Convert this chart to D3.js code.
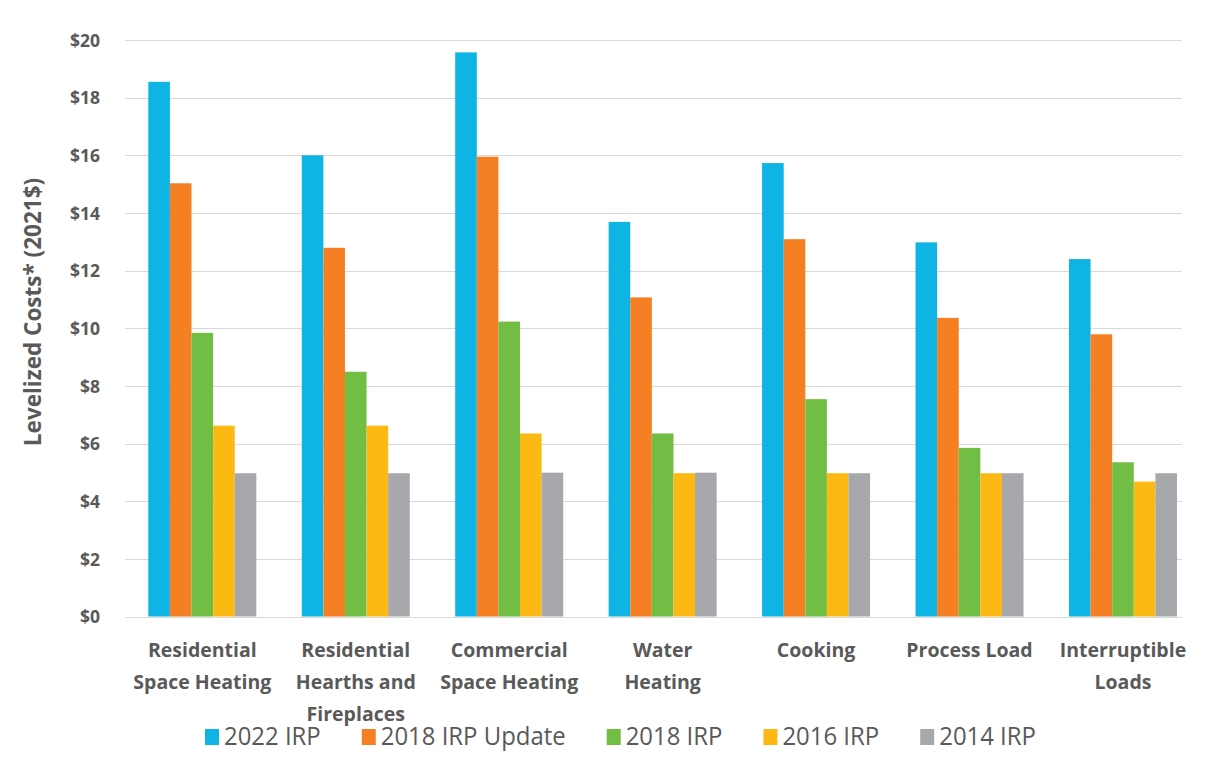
<!DOCTYPE html>
<html>
<head>
<meta charset="utf-8">
<script src="https://cdn.jsdelivr.net/npm/d3@7"></script>
<style>
  html, body { margin: 0; padding: 0; background: #ffffff; }
  svg { display: block; font-family: "Open Sans", "Liberation Sans", sans-serif; }
</style>
</head>
<body>
<svg id="chart" width="1207" height="762"></svg>
<script>
// End-use categories (each label split into display lines)
const categories = [
  "Residential Space Heating",
  "Residential Hearths and Fireplaces",
  "Commercial Space Heating",
  "Water Heating",
  "Cooking",
  "Process Load",
  "Interruptible Loads"
];
const categoryLines = [
  ["Residential", "Space Heating"],
  ["Residential", "Hearths and", "Fireplaces"],
  ["Commercial", "Space Heating"],
  ["Water", "Heating"],
  ["Cooking"],
  ["Process Load"],
  ["Interruptible", "Loads"]
];

// Series names, in legend order
const seriesNames = ["2022 IRP", "2018 IRP Update", "2018 IRP", "2016 IRP", "2014 IRP"];

// Levelized costs (2021$) per category, one array per series
const irp2022       = [18.55, 16.00, 19.57, 13.69, 15.73, 12.98, 12.40];
const irp2018Update = [15.03, 12.79, 15.95, 11.07, 13.09, 10.36, 9.79];
const irp2018       = [9.84, 8.49, 10.23, 6.35, 7.54, 5.85, 5.35];
const irp2016       = [6.62, 6.62, 6.35, 4.97, 4.97, 4.97, 4.68];
const irp2014       = [4.97, 4.97, 4.99, 4.99, 4.97, 4.97, 4.97];

const seriesValues = [irp2022, irp2018Update, irp2018, irp2016, irp2014];
const seriesColors = ["#0db4e4", "#f58024", "#72bd43", "#fdb913", "#a6a8ab"];

// Y axis ticks
const yTicks = [0, 2, 4, 6, 8, 10, 12, 14, 16, 18, 20];
const yTitle = "Levelized Costs* (2021$)";

const svg = d3.select("#chart");
const textColor = "#595959";

const x = d3.scaleBand()
  .domain(categories)
  .range([125.6, 1199.7])
  .paddingInner(0.296)
  .paddingOuter(0.148);

const xInner = d3.scaleBand()
  .domain(seriesNames)
  .range([0, x.bandwidth()])
  .padding(0);

const y = d3.scaleLinear().domain([0, 20]).range([616.5, 40]);

// Horizontal gridlines
svg.append("g").attr("class", "grid")
  .selectAll("line")
  .data(yTicks)
  .join("line")
  .attr("x1", 125)
  .attr("x2", 1182)
  .attr("y1", d => Math.round(y(d)) + 0.5)
  .attr("y2", d => Math.round(y(d)) + 0.5)
  .attr("stroke", "#d9d9d9")
  .attr("stroke-width", 1);

// Y axis labels
const yAxis = svg.append("g")
  .attr("transform", "translate(100,0)")
  .call(d3.axisLeft(y).tickValues(yTicks).tickFormat(d => "$" + d).tickSize(0).tickPadding(0));
yAxis.select(".domain").remove();
yAxis.selectAll("text")
  .attr("font-family", "'Open Sans', sans-serif")
  .attr("font-size", 17.5)
  .attr("font-weight", 700)
  .attr("fill", textColor)
  .attr("dy", "0.36em");

// Y axis title
svg.append("text")
  .attr("transform", "translate(41,312) rotate(-90)")
  .attr("text-anchor", "middle")
  .attr("font-size", 22.5)
  .attr("font-weight", 700)
  .attr("fill", textColor)
  .text(yTitle);

// Grouped bars
const rows = categories.map((c, i) => ({
  category: c,
  values: seriesNames.map((s, j) => ({ series: s, value: seriesValues[j][i], color: seriesColors[j] }))
}));

svg.append("g").attr("class", "bars")
  .selectAll("g")
  .data(rows)
  .join("g")
  .attr("transform", d => `translate(${x(d.category)},0)`)
  .selectAll("rect")
  .data(d => d.values)
  .join("rect")
  .attr("x", d => xInner(d.series))
  .attr("width", xInner.bandwidth())
  .attr("y", d => y(d.value))
  .attr("height", d => y(0) - y(d.value))
  .attr("fill", d => d.color);

// Category labels
const catG = svg.append("g").attr("class", "categories");
categories.forEach((c, i) => {
  const t = catG.append("text")
    .attr("x", x(c) + x.bandwidth() / 2)
    .attr("y", 657)
    .attr("text-anchor", "middle")
    .attr("font-size", 19.5)
    .attr("font-weight", 700)
    .attr("fill", textColor);
  categoryLines[i].forEach((line, k) => {
    t.append("tspan")
      .attr("x", x(c) + x.bandwidth() / 2)
      .attr("dy", k === 0 ? 0 : 32)
      .text(line);
  });
});

// Legend
const legend = svg.append("g").attr("class", "legend");
let lx = 205;
seriesNames.forEach((name, j) => {
  legend.append("rect")
    .attr("x", lx)
    .attr("y", 729)
    .attr("width", 14)
    .attr("height", 16)
    .attr("fill", seriesColors[j]);
  const t = legend.append("text")
    .attr("x", lx + 19)
    .attr("y", 745)
    .attr("font-size", 26)
    .attr("font-weight", 400)
    .attr("fill", textColor)
    .text(name);
  const natural = t.node().getComputedTextLength();
  const w = natural * 0.92;
  t.attr("textLength", w).attr("lengthAdjust", "spacingAndGlyphs");
  lx += 19 + w + 41;
});
</script>
</body>
</html>
